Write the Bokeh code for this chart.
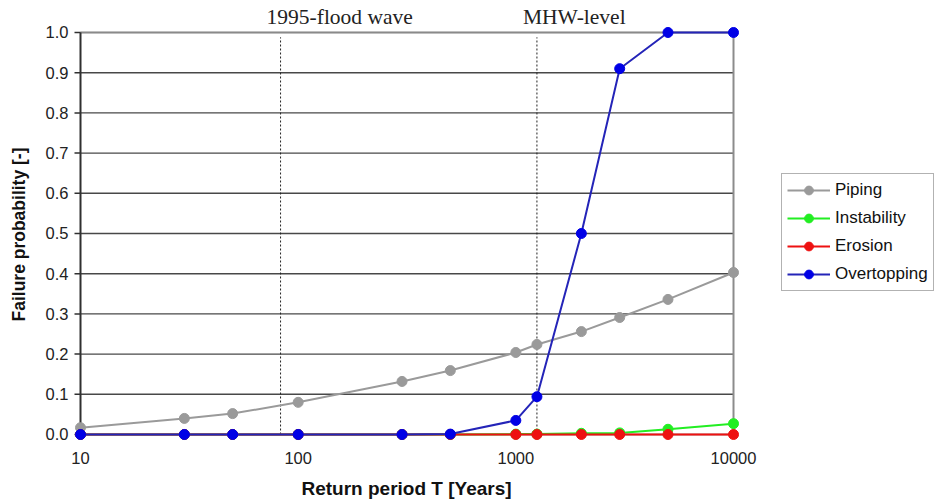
import numpy as np
from bokeh.plotting import figure
from bokeh.models import Range1d, Legend, LegendItem, Label
from bokeh.core.properties import value
from bokeh.embed import file_html
from bokeh.resources import INLINE

# ---- data ----
T = [10, 30, 50, 100, 300, 500, 1000, 1250, 2000, 3000, 5000, 10000]
piping = [0.017, 0.040, 0.052, 0.080, 0.132, 0.159, 0.204, 0.224, 0.256, 0.291, 0.336, 0.403]
instability = [0, 0, 0, 0, 0, 0, 0.001, 0.001, 0.003, 0.004, 0.013, 0.027]
erosion = [0, 0, 0, 0, 0, 0, 0, 0, 0, 0, 0, 0]
overtopping = [0, 0, 0, 0, 0, 0.001, 0.035, 0.094, 0.500, 0.910, 1.000, 1.000]

x_ticks = [10, 100, 1000, 10000]
x_tick_labels = ["10", "100", "1000", "10000"]
y_ticks = [0.0, 0.1, 0.2, 0.3, 0.4, 0.5, 0.6, 0.7, 0.8, 0.9, 1.0]
y_tick_labels = ["0.0", "0.1", "0.2", "0.3", "0.4", "0.5", "0.6", "0.7", "0.8", "0.9", "1.0"]
marker_T = [83, 1250]
marker_labels = ["1995-flood wave", "MHW-level"]

series = [
    ("Piping", piping, "#9a9a9a", "#9a9a9a"),
    ("Instability", instability, "#22ee22", "#22ee22"),
    ("Erosion", erosion, "#ee1111", "#ee1111"),
    ("Overtopping", overtopping, "#2424b8", "#0000e6"),
]

# frame covers the whole canvas: 10 -> px 80, 10000 -> px 733, 1.0 -> px 32, 0.0 -> px 434
p = figure(width=936, height=499, x_axis_type="log",
           x_range=Range1d(4.29, 85620),
           y_range=Range1d(-0.1617, 1.0796),
           x_axis_location=None, y_axis_location=None,
           output_backend="svg", toolbar_location=None,
           min_border_left=0, min_border_right=0,
           min_border_top=0, min_border_bottom=0)
p.outline_line_color = None
p.xgrid.visible = False
p.ygrid.visible = False
p.background_fill_color = "white"
p.border_fill_color = "white"

n = len(y_ticks)
# gridlines
p.segment(x0=[x_ticks[0]] * n, x1=[x_ticks[-1]] * n,
          y0=y_ticks, y1=y_ticks, line_color="#484848", line_width=1.4)
# top border line (lighter)
p.segment(x0=[x_ticks[0]], x1=[x_ticks[-1]], y0=[y_ticks[-1]], y1=[y_ticks[-1]],
          line_color="#8a8a8a", line_width=1.6)
# right border
p.segment(x0=[x_ticks[-1]], x1=[x_ticks[-1]], y0=[y_ticks[0]], y1=[y_ticks[-1]],
          line_color="#8c8c8c", line_width=2)
# y axis line, ticks, labels
p.segment(x0=[x_ticks[0]], x1=[x_ticks[0]], y0=[y_ticks[0]], y1=[y_ticks[-1]],
          line_color="#303030", line_width=2)
p.ray(x=[x_ticks[0]] * n, y=y_ticks, length=6, length_units="screen", angle=np.pi,
      line_color="#303030", line_width=1.5)
p.text(x=[x_ticks[0]] * n, y=y_ticks, text=y_tick_labels, x_offset=-12,
       text_align="right", text_baseline="middle",
       text_font=value("Liberation Sans"), text_font_size="16.5px", text_color="#222222")
# x tick labels
p.text(x=x_ticks, y=[y_ticks[0]] * len(x_ticks), text=x_tick_labels, y_offset=24,
       text_align="center", text_baseline="middle",
       text_font=value("Liberation Sans"), text_font_size="16.5px", text_color="#222222")

# marker lines
p.segment(x0=marker_T, x1=marker_T, y0=[0, 0], y1=[0.988, 0.988],
          line_color="#222222", line_width=1, line_dash="2 2")
for xv, txt in zip(marker_T, marker_labels):
    p.add_layout(Label(x=xv, y=1.0, text=txt, x_offset=-14, y_offset=3,
                       text_align="left", text_baseline="bottom",
                       text_font="Liberation Serif", text_font_size="21.5px",
                       text_color="#222222"))

items = []
for name, vals, lc, mc in series:
    r1 = p.line(T, vals, line_color=lc, line_width=2)
    r2 = p.scatter(T, vals, size=10, fill_color=mc, line_color=mc)
    items.append(LegendItem(label=name, renderers=[r1, r2]))

legend = Legend(items=items, location=(781, 208))
legend.label_text_font = "Liberation Sans"
legend.label_text_font_size = "17px"
legend.label_text_color = "#111111"
legend.label_standoff = 5
legend.glyph_width = 43
legend.glyph_height = 22
legend.label_height = 22
legend.spacing = 6
legend.padding = 5
legend.margin = 0
legend.border_line_color = "#666666"
legend.border_line_width = 1
legend.background_fill_color = "white"
p.add_layout(legend, "center")

# axis titles (screen units from frame bottom-left = canvas bottom-left)
p.add_layout(Label(x=18.5, y=265, x_units="screen", y_units="screen",
                   text="Failure probability [-]", angle=np.pi / 2,
                   text_align="center", text_baseline="middle",
                   text_font="Liberation Sans", text_font_size="17.5px",
                   text_font_style="bold", text_color="#111111"))
p.add_layout(Label(x=406, y=11, x_units="screen", y_units="screen",
                   text="Return period T [Years]",
                   text_align="center", text_baseline="middle",
                   text_font="Liberation Sans", text_font_size="19px",
                   text_font_style="bold", text_color="#111111"))

open("out.html", "w").write(file_html(p, INLINE))
